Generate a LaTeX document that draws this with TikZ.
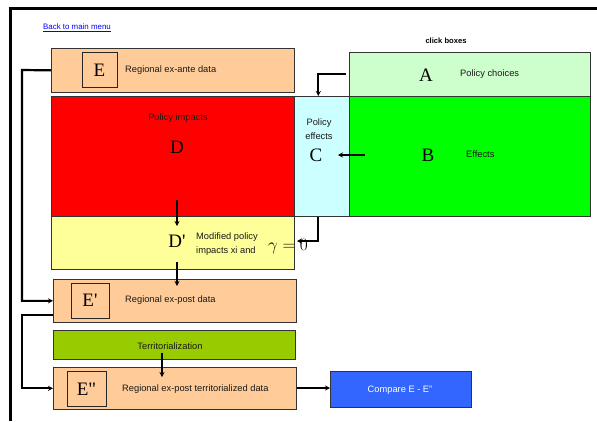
\documentclass[tikz,border=0pt]{standalone}
\usepackage{fontspec}
\setmainfont{Liberation Sans}
\newfontfamily\serifL{Liberation Serif}
\usetikzlibrary{arrows.meta}
\definecolor{peach}{HTML}{FFCC99}
\definecolor{redbox}{HTML}{FF0000}
\definecolor{yellowbox}{HTML}{FFFF99}
\definecolor{cyanbox}{HTML}{CCFFFF}
\definecolor{greenbox}{HTML}{00FF00}
\definecolor{lgreenbox}{HTML}{CCFFCC}
\definecolor{olivebox}{HTML}{99CC00}
\definecolor{bluebox}{HTML}{3366FF}
\definecolor{linkblue}{HTML}{0000FF}
\tikzset{
  box/.style={draw=black!80, line width=0.7pt, inner sep=0pt, anchor=north west},
  sq/.style={draw=black!85, line width=0.7pt, inner sep=0pt},
  big/.style={font=\serifL\fontsize{19}{19}\selectfont, inner sep=0pt},
  lbl/.style={font=\fontsize{9.3}{14}\selectfont, inner sep=0pt, text=black!90},
  conn/.style={line width=2.2pt, -{Stealth[length=5pt,width=5pt]}},
  frame/.style={line width=3pt}
}
\begin{document}
\begin{tikzpicture}[x=1pt,y=-1pt]
\useasboundingbox (0,0) rectangle (597,421);
\fill[white] (0,0) rectangle (597,421);
% frame
\draw[frame] (8.5,8) -- (597,8);
\draw[frame] (10,8) -- (10,421);
% link and title
\node[anchor=west, inner sep=0pt, font=\fontsize{7.9}{9}\selectfont, text=linkblue] (back) at (43,28) {\underline{Back to main menu}};
\node[inner sep=0pt, font=\bfseries\fontsize{7.6}{9}\selectfont] (click) at (446,41) {click boxes};
% boxes
\node[box, fill=peach, minimum width=243pt, minimum height=44pt] (E) at (51,48) {};
\node[box, fill=redbox, minimum width=243pt, minimum height=120pt] (D) at (51,96) {};
\node[box, fill=yellowbox, minimum width=243pt, minimum height=53pt] (Dp) at (51,216) {};
\node[box, fill=cyanbox, minimum width=55pt, minimum height=120pt] (C) at (294,96) {};
\node[box, fill=greenbox, minimum width=241pt, minimum height=120pt] (B) at (349,96) {};
\node[box, fill=lgreenbox, minimum width=241pt, minimum height=44pt] (A) at (349,52) {};
\node[box, fill=peach, minimum width=243pt, minimum height=43pt] (Ep) at (53,279) {};
\node[box, fill=olivebox, minimum width=242pt, minimum height=29pt] (T) at (53,330) {};
\node[box, fill=peach, minimum width=243pt, minimum height=42pt] (Epp) at (53,367) {};
\node[box, fill=bluebox, minimum width=141pt, minimum height=36pt] (Cmp) at (330,371) {};
% inner squares
\node[sq, minimum width=35pt, minimum height=35pt] (Esq) at (99.5,69.5) {};
\node[sq, minimum width=38pt, minimum height=35pt] (Epsq) at (90,300.5) {};
\node[sq, minimum width=39pt, minimum height=35pt] (Eppsq) at (86.5,388.5) {};
% big letters
\node[big] (Elet) at (99.5,70) {E};
\node[big] (Alet) at (426,75) {A};
\node[big] (Blet) at (428,155) {B};
\node[big] (Clet) at (316,155) {C};
\node[big] (Dlet) at (177,147) {D};
\node[big] (Dplet) at (177,241) {D'};
\node[big] (Eplet) at (90,300.5) {E'};
\node[big] (Epplet) at (86.5,389) {E{\char34}};
\node[inner sep=0pt, font=\fontsize{19}{19}\selectfont] (gam) at (288,247) {$\gamma=0$};
% labels
\node[lbl, anchor=west] (Etxt) at (125,70) {Regional ex-ante data};
\node[lbl, anchor=west] (Atxt) at (460,74.5) {Policy choices};
\node[lbl, anchor=west] (Btxt) at (466,154.5) {Effects};
\node[lbl, align=center] (Ctxt) at (319,129) {Policy\\effects};
\node[lbl] (Dtxt) at (178,118.5) {Policy impacts};
\node[lbl, anchor=west, align=left] (Dptxt) at (196,244.5) {Modified policy\\impacts xi and};
\node[lbl, anchor=west] (Eptxt) at (125,300) {Regional ex-post data};
\node[lbl] (Ttxt) at (170,346) {Territorialization};
\node[lbl, anchor=west] (Epptxt) at (122,389) {Regional ex-post territorialized data};
\node[lbl, text=white] (Cmptxt) at (400,390) {Compare E - E{\char34}};
% connectors
\coordinate (e1) at (22,70);
\draw[conn] (E.west) -- (e1) |- (Ep.west);
\coordinate (ep1) at (53,315);
\coordinate (ep2) at (22,315);
\draw[conn] (ep1) -- (ep2) |- (Epp.west);
\draw[conn] ([xshift=-3.5pt]A.west |- A.west) -| ([xshift=-3.5pt]C.north);
\coordinate (bstart) at (365,155);
\coordinate (cend) at (338,155);
\draw[conn] (bstart) -- (cend);
\coordinate (gtip) at (297,241);
\draw[conn] ([xshift=-3.5pt]C.south) |- (gtip);
\coordinate (d1) at (177,200);
\coordinate (d2) at (177,226);
\draw[conn] (d1) -- (d2);
\coordinate (dp1) at (177,262);
\coordinate (dp2) at (177,286);
\draw[conn] (dp1) -- (dp2);
\coordinate (t1) at (162,353);
\coordinate (t2) at (162,377);
\draw[conn] (t1) -- (t2);
\draw[conn] (Epp.east |- 0,388) -- (Cmp.west |- 0,388);
\end{tikzpicture}
\end{document}
